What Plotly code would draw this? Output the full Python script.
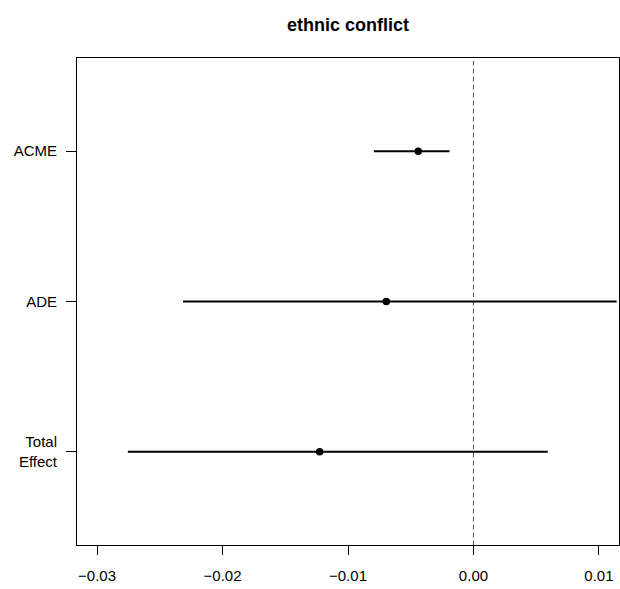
import plotly.graph_objects as go

labels = ["ACME", "ADE", "Total<br>Effect"]
y_pos = [3, 2, 1]
estimates = [-0.0044, -0.00695, -0.01226]
ci_lower = [-0.00794, -0.02315, -0.02755]
ci_upper = [-0.00191, 0.01141, 0.00592]
ref_value = 0.0
x_ticks = [-0.03, -0.02, -0.01, 0.00, 0.01]
x_tick_text = ["\u22120.03", "\u22120.02", "\u22120.01", "0.00", "0.01"]

FONT = "Liberation Sans, Arial, Helvetica, sans-serif"

fig = go.Figure()
fig.add_trace(go.Scatter(
    x=estimates, y=y_pos, mode="markers",
    marker=dict(color="black", size=7.5),
    error_x=dict(type="data", symmetric=False,
                 array=[u - e for u, e in zip(ci_upper, estimates)],
                 arrayminus=[e - l for e, l in zip(estimates, ci_lower)],
                 width=0, thickness=2, color="black"),
    showlegend=False, hoverinfo="skip", cliponaxis=False,
))

fig.add_shape(type="line", xref="x", yref="paper", x0=ref_value, x1=ref_value,
              y0=0, y1=1, line=dict(color="#444444", width=1, dash="4px,4px"), layer="below")

fig.update_layout(
    width=620, height=589,
    margin=dict(l=77, r=1, t=58, b=44),
    paper_bgcolor="white", plot_bgcolor="white",
    font=dict(family=FONT, size=15, color="black"),
    title=dict(text="<b>ethnic conflict</b>", x=0.5, xref="paper", xanchor="center",
               y=1 - 25 / 589, yanchor="middle", font=dict(size=18, family=FONT)),
    xaxis=dict(range=[-0.0316, 0.0116], tickvals=x_ticks, ticktext=x_tick_text,
               showgrid=False, zeroline=False, showline=True, mirror=True,
               linecolor="black", linewidth=1, ticks="outside", ticklen=9,
               tickcolor="black", tickfont=dict(size=15), ticklabelstandoff=8),
    yaxis=dict(range=[0.38, 3.62], tickvals=y_pos, ticktext=labels,
               showgrid=False, zeroline=False, showline=True, mirror=True,
               linecolor="black", linewidth=1, ticks="outside", ticklen=10,
               tickcolor="black", tickfont=dict(size=15), ticklabelstandoff=6),
)

fig.write_html("out.html")
